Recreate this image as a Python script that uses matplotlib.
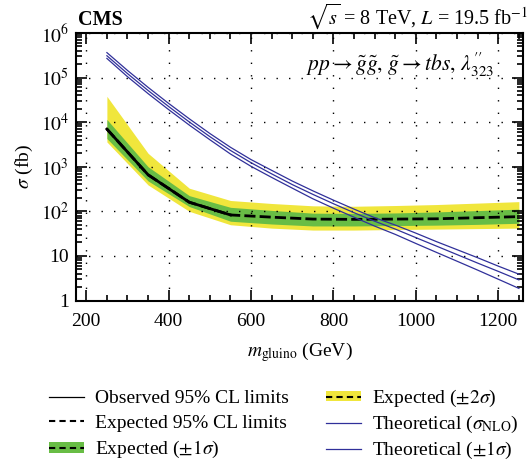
import numpy as np
import matplotlib.pyplot as plt
from matplotlib.patches import Patch
from matplotlib.lines import Line2D
from matplotlib.ticker import FixedLocator, MultipleLocator, FuncFormatter, LogLocator, NullFormatter

plt.rcParams['font.family'] = ['Liberation Serif', 'DejaVu Serif']
plt.rcParams['mathtext.fontset'] = 'stix'

# Limites esperados / observados (fb)
masas = [250, 350, 450, 550, 650, 750, 850, 950, 1050, 1150, 1250]
esperado = [7000, 660, 160, 83, 74, 67, 66, 67, 68, 72, 76]
uno_sig_alto = [11500, 1000, 225, 123, 105, 91, 90, 92, 97, 104, 112]
uno_sig_bajo = [4300, 480, 128, 60, 52, 47, 47, 48, 49, 51, 54]
dos_sig_alto = [38000, 2000, 330, 175, 150, 133, 130, 135, 142, 153, 165]
dos_sig_bajo = [3600, 390, 100, 50, 42, 38, 38, 39, 40, 41, 42]

masas_obs = [250, 350, 450, 550]
observado = [7000, 660, 160, 83]

# Seccion eficaz teorica (fb)
masas_teo = [250, 300, 350, 400, 450, 500, 550, 600, 650, 700, 750,
             800, 850, 900, 950, 1000, 1050, 1100, 1150, 1200, 1250]
teo = [309000, 123000, 51300, 22400, 10100, 4730, 2320, 1230, 692, 398, 240,
       148, 93, 60, 40, 25.7, 16.6, 10.7, 6.9, 4.5, 2.9]
teo_alto = [363000, 144500, 60300, 26300, 11900, 5560, 2730, 1445, 830, 478, 288,
            178, 112, 72, 49.2, 32.4, 20.9, 13.8, 9.1, 5.9, 3.9]
teo_bajo = [269000, 104700, 43700, 19100, 8600, 4030, 1930, 1020, 576, 331, 191,
            117.5, 73.8, 46.6, 30.4, 19.0, 12.0, 7.6, 4.8, 3.0, 1.87]

amarillo = '#f0e63c'
verde = '#68bd45'
azul = '#30309a'

fig = plt.figure(figsize=(5.3, 4.66), dpi=100)
ax = fig.add_axes([76 / 530, 1 - 300.5 / 466, 447 / 530, 267.5 / 466])

ax.fill_between(masas, dos_sig_bajo, dos_sig_alto, color=amarillo, lw=0, zorder=1)
ax.fill_between(masas, uno_sig_bajo, uno_sig_alto, color=verde, lw=0, zorder=2)
ax.plot(masas, esperado, color='black', lw=2, dashes=(4, 1.5), zorder=3)
ax.plot(masas_obs, observado, color='black', lw=2, zorder=4)
ax.plot(masas_teo, teo, color=azul, lw=0.9, zorder=5)
ax.plot(masas_teo, teo_alto, color=azul, lw=0.9, zorder=5)
ax.plot(masas_teo, teo_bajo, color=azul, lw=0.9, zorder=5)

ax.set_yscale('log')
ax.set_xlim(175, 1260)
ax.set_ylim(1, 1e6)

ax.xaxis.set_major_locator(MultipleLocator(200))
ax.xaxis.set_minor_locator(MultipleLocator(50))
ax.yaxis.set_major_locator(FixedLocator([1, 10, 1e2, 1e3, 1e4, 1e5, 1e6]))
ax.yaxis.set_minor_locator(LogLocator(base=10, subs=np.arange(2, 10)))
ax.yaxis.set_minor_formatter(NullFormatter())


def etiqueta_y(v, pos):
    n = int(round(np.log10(v)))
    if n == 0:
        return '1'
    if n == 1:
        return '10'
    return r'$10^{%d}$' % n


ax.yaxis.set_major_formatter(FuncFormatter(etiqueta_y))
ax.tick_params(which='both', direction='in', top=True, right=True, labelsize=14, width=1.2)
ax.tick_params(which='major', length=8)
ax.tick_params(which='minor', length=4)
ax.tick_params(axis='x', which='major', pad=9)
ax.tick_params(axis='y', which='major', pad=5)
for s in ax.spines.values():
    s.set_linewidth(1.5)

ax.grid(True, which='major', color='black', linestyle=(0, (1, 8)), lw=1)
ax.set_axisbelow(False)

ax.set_xlabel(r'$m_{\mathrm{gluino}}$ (GeV)', fontsize=14, labelpad=7)
ax.set_ylabel(r'$\sigma$ (fb)', fontsize=14, labelpad=4)

fig.text(78 / 530, 1 - 25 / 466, 'CMS', fontsize=14.5, fontweight='bold', ha='left', va='baseline')
fig.text(528 / 530, 1 - 24 / 466, r'$\sqrt{s}$ = 8 TeV, $L$ = 19.5 fb$^{-1}$',
         fontsize=14.5, ha='right', va='baseline')
ax.text(0.937, 0.88,
        r'$pp \rightarrow \tilde{g}\tilde{g},\, \tilde{g} \rightarrow tbs,\, \lambda^{\prime\prime}_{323}$',
        transform=ax.transAxes, fontsize=15.5, ha='right', va='center')

rayas = (3, 2)
izq = [
    Line2D([], [], color='black', lw=0.9),
    Line2D([], [], color='black', lw=1.5, dashes=rayas),
    (Patch(facecolor=verde, lw=0), Line2D([], [], color='black', lw=1.5, dashes=rayas)),
]
der = [
    (Patch(facecolor=amarillo, lw=0), Line2D([], [], color='black', lw=1.5, dashes=rayas)),
    Line2D([], [], color=azul, lw=0.9),
    Line2D([], [], color=azul, lw=0.9),
]
textos_izq = ['Observed 95% CL limits', 'Expected 95% CL limits', r'Expected ($\pm1\sigma$)']
textos_der = [r'Expected ($\pm2\sigma$)', r'Theoretical ($\sigma_{\mathrm{NLO}}$)',
              r'Theoretical ($\pm1\sigma$)']
opciones = dict(loc='upper left', frameon=False, fontsize=14, handlelength=1.8,
                handleheight=0.45, handletextpad=0.6, borderpad=0)
fig.legend(izq, textos_izq, bbox_to_anchor=(39 / 530, 1 - 380 / 466), labelspacing=0.40, **opciones)
fig.legend(der, textos_der, bbox_to_anchor=(316 / 530, 1 - 378 / 466), labelspacing=0.25, **opciones)

fig.savefig('out.png', dpi=100)
